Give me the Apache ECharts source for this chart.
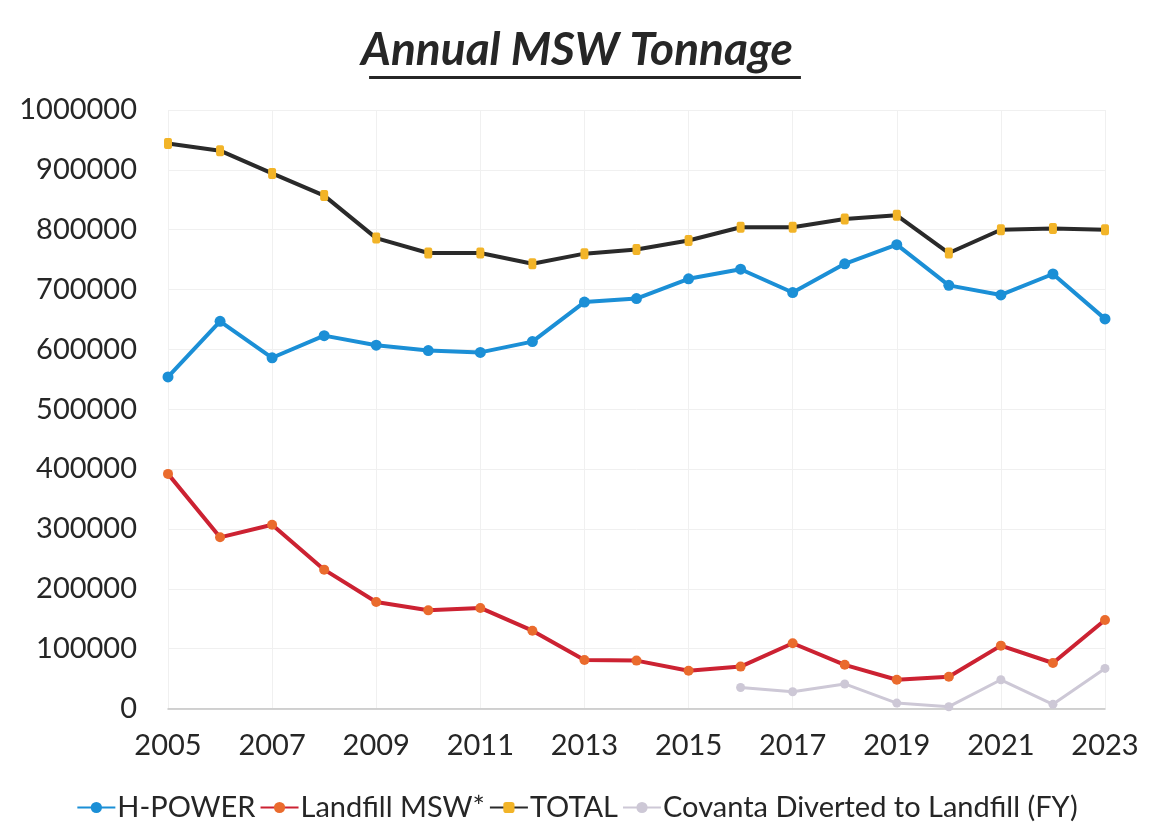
<!DOCTYPE html>
<html>
<head>
<meta charset="utf-8">
<script src="https://cdn.jsdelivr.net/npm/echarts@6/dist/echarts.min.js"></script>
<style>
html,body{margin:0;padding:0;background:#fff;}
#chart{width:1154px;height:839px;}
</style>
</head>
<body>
<div id="chart"></div>
<script>
const years = ['2005','2006','2007','2008','2009','2010','2011','2012','2013','2014','2015','2016','2017','2018','2019','2020','2021','2022','2023'];
const hPower = [554000,647000,586000,623000,607000,598000,595000,613000,679000,685000,718000,734000,695000,743000,775000,707000,691000,726000,651000];
const landfill = [392000,286000,307000,232000,178000,164000,168000,130000,81000,80000,63000,70000,109000,73000,48000,53000,105000,76000,148000];
const total = [944000,932000,894000,857000,786000,761000,761000,743000,760000,767000,782000,804000,804000,818000,824000,761000,800000,802000,800000];
const covanta = [null,null,null,null,null,null,null,null,null,null,null,35000,28000,41000,9000,3000,48000,7000,67000];
const yTicks = {min:0, max:1000000, interval:100000};
const titleText = 'Annual MSW Tonnage';

const chart = echarts.init(document.getElementById('chart'));
const FONT = 'Lato';
const titleFont = 'italic bold 46px Lato';
const cv = document.createElement('canvas').getContext('2d');
cv.font = titleFont;
const tw = cv.measureText(titleText).width;
const cx = 585;

chart.setOption({
  animation:false,
  backgroundColor:'#fff',
  graphic:[
    {type:'text', left:'center', top:27, style:{text:titleText, font:titleFont, fill:'#262626'}},
    {type:'rect', shape:{x:cx - tw/2, y:76, width:tw, height:3}, style:{fill:'#262626'}}
  ],
  grid:{left:168, right:49, top:110, bottom:130.5},
  legend:{
    bottom:12, left:'center', itemWidth:38, itemHeight:14, itemGap:4,
    textStyle:{fontFamily:FONT, fontSize:29, color:'#262626', padding:[0,0,0,-3]},
    data:['H-POWER','Landfill MSW*','TOTAL','Covanta Diverted to Landfill (FY)']
  },
  xAxis:{
    type:'category', data:years, boundaryGap:false,
    axisLine:{lineStyle:{color:'#c4c4c4', width:1.5}},
    axisTick:{show:false},
    axisLabel:{interval:1, fontFamily:FONT, fontSize:29, color:'#262626', margin:23},
    splitLine:{show:true, interval:1, lineStyle:{color:'#f0f0f0', width:1}}
  },
  yAxis:{
    type:'value', min:yTicks.min, max:yTicks.max, interval:yTicks.interval,
    axisLine:{show:false}, axisTick:{show:false},
    axisLabel:{fontFamily:FONT, fontSize:29, color:'#262626', margin:31, formatter:function(v){return String(v);}},
    splitLine:{lineStyle:{color:'#f0f0f0', width:1}}
  },
  series:[
    {name:'H-POWER', type:'line', data:hPower, symbol:'circle', symbolSize:11,
     lineStyle:{color:'#1b8fd6', width:4}, itemStyle:{color:'#1b8fd6'}},
    {name:'Landfill MSW*', type:'line', data:landfill, symbol:'circle', symbolSize:10,
     lineStyle:{color:'#cc2232', width:4}, itemStyle:{color:'#ea6b2d'}},
    {name:'TOTAL', type:'line', data:total, symbol:'roundRect', symbolSize:[8,11],
     lineStyle:{color:'#2a2a2a', width:4}, itemStyle:{color:'#f2b428'}},
    {name:'Covanta Diverted to Landfill (FY)', type:'line', data:covanta, symbol:'circle', symbolSize:9,
     lineStyle:{color:'#cdc8d6', width:3}, itemStyle:{color:'#cdc8d6'}}
  ]
});
</script>
</body>
</html>
